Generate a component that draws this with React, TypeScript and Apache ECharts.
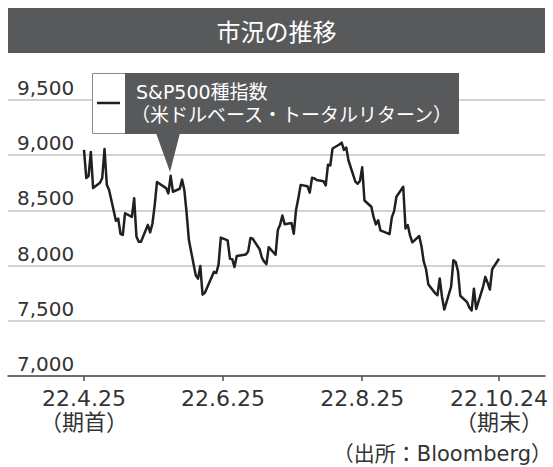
import React, { useEffect, useRef } from "react";
import * as echarts from "echarts";

const dates = [
  "2022-04-25", "2022-04-26", "2022-04-27", "2022-04-28", "2022-04-29",
  "2022-05-02", "2022-05-03", "2022-05-04", "2022-05-05", "2022-05-06",
  "2022-05-09", "2022-05-10", "2022-05-11", "2022-05-12", "2022-05-13",
  "2022-05-16", "2022-05-17", "2022-05-18", "2022-05-19", "2022-05-20",
  "2022-05-23", "2022-05-24", "2022-05-25", "2022-05-26", "2022-05-27",
  "2022-05-31",
  "2022-06-01", "2022-06-02", "2022-06-03",
  "2022-06-06", "2022-06-07", "2022-06-08", "2022-06-09", "2022-06-10",
  "2022-06-13", "2022-06-14", "2022-06-15", "2022-06-16", "2022-06-17",
  "2022-06-21", "2022-06-22", "2022-06-23", "2022-06-24",
  "2022-06-27", "2022-06-28", "2022-06-29", "2022-06-30",
  "2022-07-01",
  "2022-07-05", "2022-07-06", "2022-07-07", "2022-07-08",
  "2022-07-11", "2022-07-12", "2022-07-13", "2022-07-14", "2022-07-15",
  "2022-07-18", "2022-07-19", "2022-07-20", "2022-07-21", "2022-07-22",
  "2022-07-25", "2022-07-26", "2022-07-27", "2022-07-28", "2022-07-29",
  "2022-08-01", "2022-08-02", "2022-08-03", "2022-08-04", "2022-08-05",
  "2022-08-08", "2022-08-09", "2022-08-10", "2022-08-11", "2022-08-12",
  "2022-08-15", "2022-08-16", "2022-08-17", "2022-08-18", "2022-08-19",
  "2022-08-22", "2022-08-23", "2022-08-24", "2022-08-25", "2022-08-26",
  "2022-08-29", "2022-08-30", "2022-08-31",
  "2022-09-01", "2022-09-02",
  "2022-09-06", "2022-09-07", "2022-09-08", "2022-09-09",
  "2022-09-12", "2022-09-13", "2022-09-14", "2022-09-15", "2022-09-16",
  "2022-09-19", "2022-09-20", "2022-09-21", "2022-09-22", "2022-09-23",
  "2022-09-26", "2022-09-27", "2022-09-28", "2022-09-29", "2022-09-30",
  "2022-10-03", "2022-10-04", "2022-10-05", "2022-10-06", "2022-10-07",
  "2022-10-10", "2022-10-11", "2022-10-12", "2022-10-13", "2022-10-14",
  "2022-10-17", "2022-10-18", "2022-10-19", "2022-10-20", "2022-10-21",
  "2022-10-24",
];

const values = [
  9048, 8793, 8811, 9030, 8702,
  8751, 8794, 9056, 8733, 8684,
  8406, 8426, 8288, 8277, 8474,
  8441, 8611, 8263, 8215, 8216,
  8369, 8301, 8379, 8546, 8757,
  8702,
  8654, 8813, 8669,
  8696, 8779, 8684, 8478, 8231,
  7912, 7882, 7997, 7737, 7754,
  7944, 7933, 8009, 8254,
  8229, 8064, 8058, 7987,
  8087,
  8100, 8129, 8250, 8243,
  8148, 8073, 8037, 8013, 8167,
  8098, 8322, 8371, 8454, 8375,
  8386, 8289, 8506, 8609, 8731,
  8719, 8661, 8796, 8790, 8775,
  8765, 8727, 8913, 8907, 9061,
  9097, 9114, 9048, 9069, 8952,
  8760, 8741, 8766, 8890, 8590,
  8533, 8439, 8373,
  8410, 8319,
  8285, 8437, 8493, 8623,
  8714, 8337, 8366, 8271, 8211,
  8268, 8175, 8035, 7967, 7830,
  7749, 7732, 7884, 7718, 7602,
  7809, 8048, 8032, 7950, 7727,
  7669, 7619, 7594, 7791, 7607,
  7808, 7898, 7845, 7783, 7967,
  8062,
];

const yMin = 7000;
const yMax = 9500;
const yStep = 500;

const xTickDates = ["2022-04-25", "2022-06-25", "2022-08-25", "2022-10-24"];
const xTickLabels = ["22.4.25\n（期首）", "22.6.25", "22.8.25", "22.10.24\n（期末）"];

const titleText = "市況の推移";
const seriesName = "S&P500種指数";
const seriesSubName = "（米ドルベース・トータルリターン）";
const sourceText = "（出所：Bloomberg）";

const DAY = 86400000;
const ts = (s: string) => {
  const [y, m, d] = s.split("-").map(Number);
  return Date.UTC(y, m - 1, d);
};

const FONT = "'DejaVu Sans', 'Noto Sans CJK JP', sans-serif";
const CJK = "'Noto Sans CJK JP', sans-serif";
const DARK = "#58595b";

export default function App() {
  const ref = useRef<HTMLDivElement>(null);
  useEffect(() => {
    document.body.style.margin = "0";
    if (!ref.current) return;
    const chart = echarts.init(ref.current, undefined, { renderer: "svg" });
    const tickTs = xTickDates.map(ts);
    const option: any = {
      animation: false,
      backgroundColor: "#ffffff",
      grid: { left: 8, right: 8, top: 100, bottom: 91, containLabel: false },
      xAxis: {
        type: "value",
        min: ts(dates[0]) - 33.33 * DAY,
        max: ts(dates[dates.length - 1]) + 20.17 * DAY,
        axisLine: { onZero: false, lineStyle: { color: "#4d4d4d", width: 1.5 } },
        axisTick: {
          show: true,
          customValues: tickTs,
          length: 5,
          lineStyle: { color: "#4d4d4d", width: 1.5 },
        },
        axisLabel: {
          customValues: tickTs,
          formatter: (v: number) => {
            let best = 0;
            tickTs.forEach((t, i) => {
              if (Math.abs(t - v) < Math.abs(tickTs[best] - v)) best = i;
            });
            return xTickLabels[best];
          },
          fontSize: 22,
          lineHeight: 24,
          margin: 10,
          color: "#333333",
          fontFamily: FONT,
        },
        splitLine: { show: false },
      },
      yAxis: {
        type: "value",
        min: yMin,
        max: yMax,
        interval: yStep,
        axisLine: { show: false },
        axisTick: { show: false },
        axisLabel: {
          inside: true,
          margin: 9,
          align: "left",
          verticalAlign: "bottom",
          padding: [0, 0, 2, 0],
          fontSize: 20,
          lineHeight: 20,
          color: "#333333",
          fontFamily: FONT,
          formatter: (v: number) => v.toLocaleString("en-US"),
        },
        splitLine: { lineStyle: { color: "#c4c4c4", width: 1.5 } },
      },
      series: [
        {
          type: "line",
          name: seriesName,
          data: dates.map((d, i) => [ts(d), values[i]]),
          showSymbol: false,
          symbol: "none",
          lineStyle: { color: "#231f20", width: 2.5, join: "round" },
          z: 3,
        },
      ],
      graphic: [
        {
          type: "rect",
          shape: { x: 8, y: 8, width: 537, height: 45 },
          style: { fill: DARK },
          z: 10,
        },
        {
          type: "text",
          x: 276.5,
          y: 30.5,
          style: {
            text: titleText,
            fill: "#ffffff",
            font: `24px ${CJK}`,
            textAlign: "center",
            textVerticalAlign: "middle",
            align: "center",
            verticalAlign: "middle",
          },
          z: 11,
        },
        {
          type: "rect",
          shape: { x: 92.5, y: 73.5, width: 33, height: 60 },
          style: { fill: "#ffffff", stroke: "#8a8a8a", lineWidth: 1 },
          z: 10,
        },
        {
          type: "line",
          shape: { x1: 97, y1: 103, x2: 120, y2: 103 },
          style: { stroke: "#231f20", lineWidth: 2.5 },
          z: 11,
        },
        {
          type: "rect",
          shape: { x: 125, y: 73, width: 334, height: 61 },
          style: { fill: DARK },
          z: 10,
        },
        {
          type: "polygon",
          shape: { points: [[156, 133], [180, 133], [170, 172]] },
          style: { fill: DARK },
          z: 10,
        },
        {
          type: "text",
          x: 136,
          y: 92,
          style: {
            text: seriesName,
            fill: "#ffffff",
            font: `19px ${FONT}`,
            textAlign: "left",
            textVerticalAlign: "middle",
            align: "left",
            verticalAlign: "middle",
          },
          z: 11,
        },
        {
          type: "text",
          x: 131,
          y: 115,
          style: {
            text: seriesSubName,
            fill: "#ffffff",
            font: `19px ${FONT}`,
            textAlign: "left",
            textVerticalAlign: "middle",
            align: "left",
            verticalAlign: "middle",
          },
          z: 11,
        },
        {
          type: "text",
          x: 552,
          y: 454,
          style: {
            text: sourceText,
            fill: "#333333",
            font: `21px ${FONT}`,
            textAlign: "right",
            textVerticalAlign: "middle",
            align: "right",
            verticalAlign: "middle",
          },
          z: 11,
        },
      ],
    };
    chart.setOption(option);
    return () => chart.dispose();
  }, []);
  return <div ref={ref} style={{ width: 553, height: 467 }} />;
}
